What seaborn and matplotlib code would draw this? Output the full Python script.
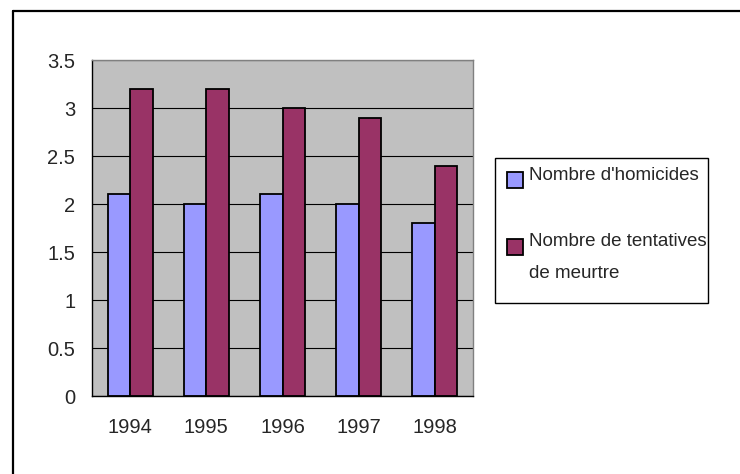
import numpy as np
import pandas as pd
import matplotlib
matplotlib.use("Agg")
import matplotlib.pyplot as plt
import seaborn as sns
from matplotlib.patches import Rectangle
from matplotlib.lines import Line2D

years = ["1994", "1995", "1996", "1997", "1998"]
homicides = [2.1, 2.0, 2.1, 2.0, 1.8]
tentatives = [3.2, 3.2, 3.0, 2.9, 2.4]
series_names = ["Nombre d'homicides", "Nombre de tentatives"]
colors = ["#9999FF", "#993366"]

df = pd.DataFrame({
    "year": years * 2,
    "value": homicides + tentatives,
    "series": [series_names[0]] * len(years) + [series_names[1]] * len(years),
})

sns.set_style("white")
plt.rcParams["font.family"] = ["Liberation Sans", "DejaVu Sans"]

W, H = 740, 474
fig = plt.figure(figsize=(7.4, 4.74), dpi=100)
ax = fig.add_axes([92 / W, 1 - 396 / H, (473 - 92) / W, (396 - 60) / H])

sns.barplot(data=df, x="year", y="value", hue="series", palette=colors,
            width=0.59, saturation=1, edgecolor="black", linewidth=1.3,
            ax=ax, legend=False)

ax.set_facecolor("#C0C0C0")
ax.set_ylim(0, 3.5)
ax.set_xlim(-0.5, 4.5)
ax.set_yticks(np.arange(0, 3.51, 0.5))
ax.set_yticklabels(["0", "0.5", "1", "1.5", "2", "2.5", "3", "3.5"])
ax.yaxis.grid(True, color="black", linewidth=0.8)
ax.set_axisbelow(True)
ax.set_xlabel("")
ax.set_ylabel("")

# x ticks sit between categories, labels centred
ax.set_xticks(np.arange(-0.5, 5, 1))
ax.set_xticklabels([""] * 6)
ax.set_xticks(range(5), minor=True)
ax.set_xticklabels(years, minor=True)
ax.tick_params(axis="x", which="major", direction="out", length=5, width=1, color="black")
ax.tick_params(axis="x", which="minor", length=0, pad=16, labelsize=14.5)
ax.tick_params(axis="y", direction="out", length=5, width=1, color="black", pad=7, labelsize=14.5)

for side in ["left", "bottom"]:
    ax.spines[side].set_color("black")
    ax.spines[side].set_linewidth(1)
for side in ["top", "right"]:
    ax.spines[side].set_color("#808080")
    ax.spines[side].set_linewidth(1)

# legend box, drawn by hand to match the spreadsheet layout
def fx(x):
    return x / W

def fy(y):
    return 1 - y / H

fig.patches.append(Rectangle((fx(495), fy(303)), fx(708) - fx(495), fy(158) - fy(303),
                             transform=fig.transFigure, facecolor="white",
                             edgecolor="black", linewidth=1))
for col, ytop in zip(colors, [172, 239]):
    fig.patches.append(Rectangle((fx(507), fy(ytop + 16)), 16 / W, 16 / H,
                                 transform=fig.transFigure, facecolor=col,
                                 edgecolor="black", linewidth=1.3))
fig.text(fx(529), fy(175), series_names[0], ha="left", va="center", fontsize=13.5)
fig.text(fx(529), fy(241), series_names[1], ha="left", va="center", fontsize=13.5)
fig.text(fx(529), fy(273), "de meurtre", ha="left", va="center", fontsize=13.5)

# outer chart border (only top and left edges visible)
fig.lines.append(Line2D([fx(12.5), 1], [fy(10.5), fy(10.5)], transform=fig.transFigure,
                        color="black", linewidth=1.6))
fig.lines.append(Line2D([fx(12.5), fx(12.5)], [0, fy(10.5)], transform=fig.transFigure,
                        color="black", linewidth=1.6))

fig.savefig("out.png", dpi=100)
